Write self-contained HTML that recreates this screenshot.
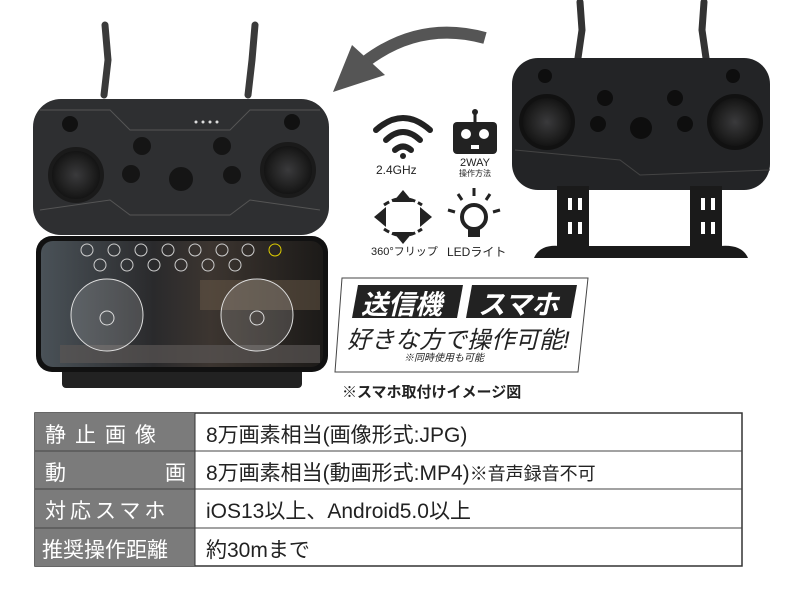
<!DOCTYPE html>
<html><head><meta charset="utf-8"><style>
body{margin:0;width:800px;height:600px;background:#fff;overflow:hidden;position:relative;font-family:"Liberation Sans","Noto Sans CJK JP",sans-serif}
.t{position:absolute;white-space:nowrap}
</style></head><body>
<svg width="800" height="600" style="position:absolute;left:0;top:0">
<defs>
<linearGradient id="sc" x1="0" y1="0" x2="1" y2="0"><stop offset="0" stop-color="#4a5258"/><stop offset="0.4" stop-color="#2a2a2c"/><stop offset="0.6" stop-color="#3c3530"/><stop offset="1" stop-color="#1c1a18"/></linearGradient>
<radialGradient id="js"><stop offset="0" stop-color="#3a3a3c"/><stop offset="0.6" stop-color="#222"/><stop offset="1" stop-color="#111"/></radialGradient>
</defs>
<!-- arrow -->
<path d="M485 38 Q420 20 365 62" stroke="#555" stroke-width="12" fill="none"/>
<polygon points="333,92 352,45 385,75" fill="#555"/>
<!-- left antennas -->
<path d="M105 25 L108 60 L104 95" stroke="#3a3a3a" stroke-width="7" fill="none" stroke-linecap="round"/>
<path d="M255 25 L252 60 L248 95" stroke="#3a3a3a" stroke-width="7" fill="none" stroke-linecap="round"/>
<!-- left controller -->
<rect x="33" y="99" width="296" height="136" rx="28" fill="#2e2f31"/>
<path d="M40 110 L110 110 L130 130 L230 130 L250 110 L320 110" stroke="#555" fill="none"/>
<path d="M40 210 L110 200 L130 215 L230 215 L250 200 L320 210" stroke="#555" fill="none"/>
<circle cx="76" cy="175" r="26" fill="url(#js)" stroke="#1a1a1a" stroke-width="4"/>
<circle cx="288" cy="170" r="26" fill="url(#js)" stroke="#1a1a1a" stroke-width="4"/>
<circle cx="70" cy="124" r="8" fill="#111"/><circle cx="292" cy="122" r="8" fill="#111"/>
<circle cx="142" cy="146" r="9" fill="#151515"/><circle cx="222" cy="146" r="9" fill="#151515"/>
<circle cx="131" cy="174" r="9" fill="#151515"/><circle cx="232" cy="175" r="9" fill="#151515"/>
<circle cx="181" cy="179" r="12" fill="#151515"/>
<g fill="#ddd"><circle cx="196" cy="122" r="1.5"/><circle cx="203" cy="122" r="1.5"/><circle cx="210" cy="122" r="1.5"/><circle cx="217" cy="122" r="1.5"/></g>
<!-- phone -->
<rect x="62" y="368" width="240" height="20" rx="4" fill="#222"/>
<rect x="36" y="236" width="292" height="136" rx="16" fill="#111"/>
<rect x="41" y="241" width="282" height="126" rx="12" fill="url(#sc)"/>
<rect x="200" y="280" width="120" height="30" fill="#6a5a48" opacity="0.5"/>
<rect x="60" y="345" width="260" height="18" fill="#5a5654" opacity="0.7"/>
<circle cx="107" cy="315" r="36" fill="#fff" fill-opacity="0.15" stroke="#ddd"/>
<circle cx="257" cy="315" r="36" fill="#fff" fill-opacity="0.15" stroke="#ddd"/>
<circle cx="107" cy="318" r="7" fill="none" stroke="#ddd"/><circle cx="257" cy="318" r="7" fill="none" stroke="#ddd"/>
<g fill="none" stroke="#ccc"><circle cx="87" cy="250" r="6"/><circle cx="114" cy="250" r="6"/><circle cx="141" cy="250" r="6"/><circle cx="168" cy="250" r="6"/><circle cx="195" cy="250" r="6"/><circle cx="222" cy="250" r="6"/><circle cx="248" cy="250" r="6"/><circle cx="100" cy="265" r="6"/><circle cx="127" cy="265" r="6"/><circle cx="154" cy="265" r="6"/><circle cx="181" cy="265" r="6"/><circle cx="208" cy="265" r="6"/><circle cx="235" cy="265" r="6"/></g>
<circle cx="275" cy="250" r="6" fill="none" stroke="#dc0"/>
<!-- right antennas -->
<path d="M580 2 L582 30 L578 58" stroke="#333" stroke-width="7" fill="none" stroke-linecap="round"/>
<path d="M704 2 L702 30 L706 58" stroke="#333" stroke-width="7" fill="none" stroke-linecap="round"/>
<!-- right controller -->
<rect x="512" y="58" width="258" height="132" rx="26" fill="#232426"/>
<path d="M515 150 L620 160 L640 175 L770 170" stroke="#444" fill="none"/>
<circle cx="547" cy="122" r="26" fill="url(#js)" stroke="#111" stroke-width="4"/>
<circle cx="735" cy="122" r="26" fill="url(#js)" stroke="#111" stroke-width="4"/>
<g fill="#0e0e0e"><circle cx="545" cy="76" r="7"/><circle cx="733" cy="76" r="7"/><circle cx="605" cy="98" r="8"/><circle cx="675" cy="98" r="8"/><circle cx="598" cy="124" r="8"/><circle cx="685" cy="124" r="8"/><circle cx="641" cy="128" r="11"/></g>
<!-- right stand -->
<g fill="#1a1a1a"><rect x="557" y="186" width="32" height="66"/><rect x="690" y="186" width="32" height="66"/></g>
<g fill="#fff"><rect x="568" y="198" width="4" height="12"/><rect x="578" y="198" width="4" height="12"/><rect x="568" y="222" width="4" height="12"/><rect x="578" y="222" width="4" height="12"/><rect x="701" y="198" width="4" height="12"/><rect x="711" y="198" width="4" height="12"/><rect x="701" y="222" width="4" height="12"/><rect x="711" y="222" width="4" height="12"/></g>
<path d="M534 258 Q540 244 560 246 L720 246 Q742 244 748 258 Z" fill="#1a1a1a"/>
<!-- icons -->
<g fill="none" stroke="#222" stroke-width="6" stroke-linecap="round">
<path d="M376 130 Q403 106 430 130"/><path d="M386 140 Q403 124 420 140"/><path d="M395 150 Q403 143 411 150"/></g>
<circle cx="403" cy="156" r="3" fill="#222"/>
<rect x="453" y="122" width="44" height="32" rx="4" fill="#222"/>
<line x1="475" y1="112" x2="475" y2="122" stroke="#222" stroke-width="3"/><circle cx="475" cy="112" r="3" fill="#222"/>
<circle cx="466" cy="134" r="5" fill="#fff"/><circle cx="484" cy="134" r="5" fill="#fff"/><rect x="471" y="145" width="8" height="4" fill="#fff"/>
<polygon points="403,190 393,202 413,202" fill="#222"/><polygon points="403,244 393,232 413,232" fill="#222"/>
<polygon points="374,217 386,207 386,227" fill="#222"/><polygon points="432,217 420,207 420,227" fill="#222"/>
<path d="M384 205 Q403 192 422 205 M384 229 Q403 242 422 229" stroke="#222" stroke-width="3" fill="none" stroke-dasharray="6 3"/>
<circle cx="474" cy="217" r="12" fill="none" stroke="#222" stroke-width="4"/>
<rect x="468" y="229" width="12" height="8" fill="#222"/>
<g stroke="#222" stroke-width="3"><line x1="474" y1="188" x2="474" y2="196"/><line x1="458" y1="194" x2="462" y2="200"/><line x1="490" y1="194" x2="486" y2="200"/><line x1="448" y1="210" x2="455" y2="212"/><line x1="500" y1="210" x2="493" y2="212"/></g>
<!-- banner -->
<polygon points="342,278 588,278 578,372 335,372" fill="#fff" stroke="#444" stroke-width="1"/>
<polygon points="358,285 463,285 457,318 352,318" fill="#222"/>
<polygon points="472,285 577,285 571,318 466,318" fill="#222"/>
<!-- table -->
<rect x="35" y="413" width="707" height="153" fill="#fff" stroke="#333" stroke-width="1.5"/>
<rect x="35" y="413" width="160" height="153" fill="#7b7b7b"/>
<line x1="195" y1="413" x2="195" y2="566" stroke="#333"/>
<g stroke="#444"><line x1="35" y1="451" x2="742" y2="451"/><line x1="35" y1="489" x2="742" y2="489"/><line x1="35" y1="528" x2="742" y2="528"/></g>
</svg>
<div class="t" style="left:376px;top:163px;font-size:12px;color:#222">2.4GHz</div>
<div class="t" style="left:459px;top:158px;font-size:11px;color:#222;line-height:10px;text-align:center">2WAY<br><span style="font-size:8px">操作方法</span></div>
<div class="t" style="left:371px;top:243px;font-size:11px;color:#222">360°フリップ</div>
<div class="t" style="left:447px;top:243px;font-size:12px;color:#222">LEDライト</div>
<div class="t" style="left:361px;top:283px;font-size:27px;font-weight:bold;font-style:italic;color:#fff">送信機</div>
<div class="t" style="left:478px;top:283px;font-size:27px;font-weight:bold;font-style:italic;color:#fff">スマホ</div>
<div class="t" style="left:347px;top:320px;font-size:24px;font-style:italic;color:#222">好きな方で操作可能!</div>
<div class="t" style="left:404px;top:349px;font-size:10px;font-style:italic;color:#222">※同時使用も可能</div>
<div class="t" style="left:342px;top:381px;font-size:15px;font-weight:bold;color:#222">※スマホ取付けイメージ図</div>
<div class="t" style="left:45px;top:419px;font-size:21px;color:#fff;letter-spacing:9px">静止画像</div>
<div class="t" style="left:45px;top:457px;font-size:21px;color:#fff">動</div>
<div class="t" style="left:165px;top:457px;font-size:21px;color:#fff">画</div>
<div class="t" style="left:45px;top:495px;font-size:21px;color:#fff;letter-spacing:4px">対応スマホ</div>
<div class="t" style="left:42px;top:534px;font-size:21px;color:#fff">推奨操作距離</div>
<div class="t" style="left:206px;top:419px;font-size:21px;color:#222">8万画素相当(画像形式:JPG)</div>
<div class="t" style="left:206px;top:457px;font-size:21px;color:#222">8万画素相当(動画形式:MP4)<span style="font-size:18px">※音声録音不可</span></div>
<div class="t" style="left:206px;top:495px;font-size:21px;color:#222">iOS13以上、Android5.0以上</div>
<div class="t" style="left:206px;top:534px;font-size:21px;color:#222">約30mまで</div>
</body></html>
